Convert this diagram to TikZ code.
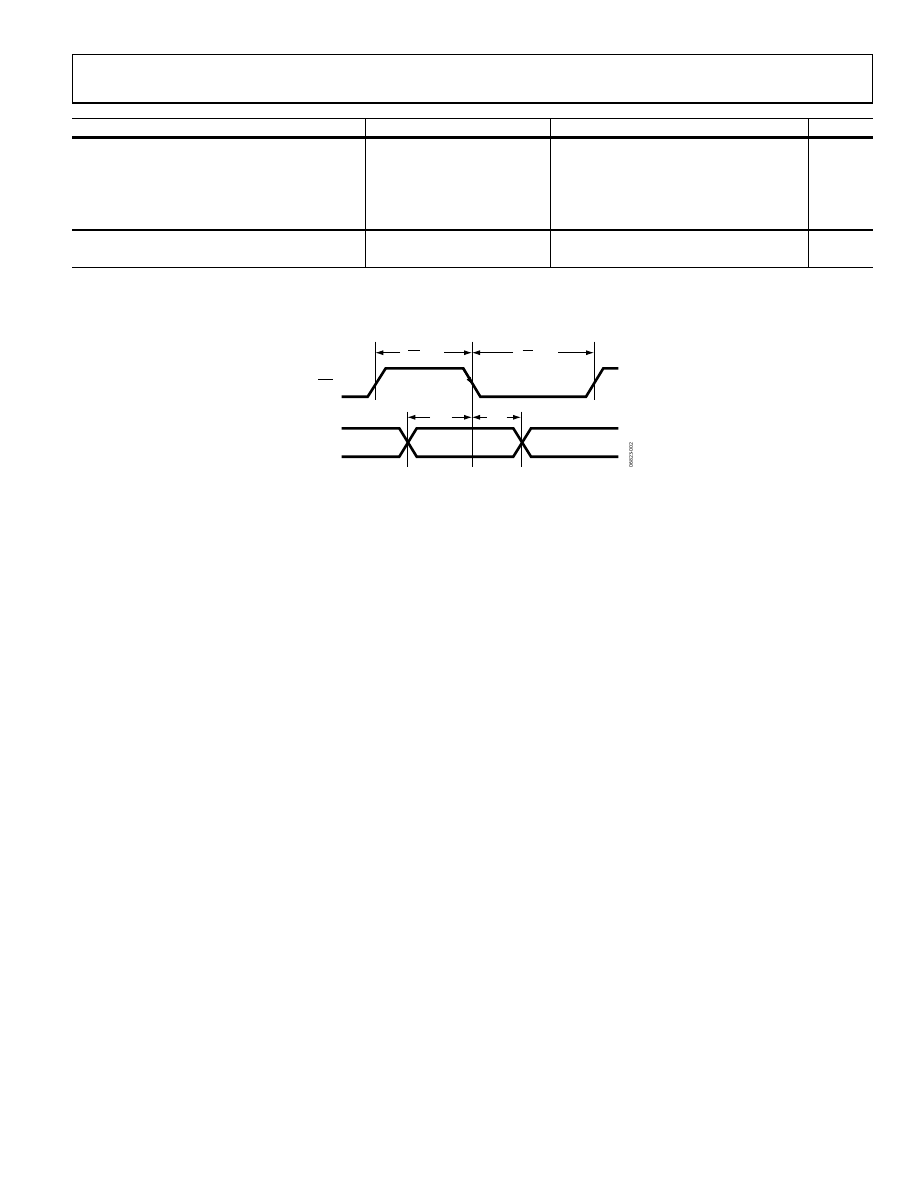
\documentclass[tikz,border=0pt]{standalone}
\usetikzlibrary{arrows.meta}
\begin{document}
\begin{tikzpicture}[x=1pt,y=-1pt,
  thinl/.style={line width=0.9pt},
  thickl/.style={line width=2.2pt},
  sig/.style={line width=2.6pt,line join=miter},
  dim/.style={line width=0.8pt},
  tip/.style={-{Latex[length=8pt,width=5pt]}},
  codetext/.style={font=\fontsize{5.5}{6}\selectfont\sffamily,rotate=90,inner sep=0pt}]
\useasboundingbox (0,0) rectangle (918,1188);
\fill[white] (0,0) rectangle (918,1188);
% header box
\draw[thinl] (72.3,103) -- (72.3,54.3) -- (872.3,54.3) -- (872.3,103);
\draw[thickl] (72,103) -- (872.6,103);
% table
\draw[thinl] (72,118.3) -- (872.6,118.3);
\draw[thickl] (72,137.5) -- (872.6,137.5);
\draw[thickl] (72,230) -- (872.6,230);
\draw[thinl] (72,267.5) -- (872.6,267.5);
\foreach \cx in {365.7,550.7,808.3}{
  \draw[thinl] (\cx,118.3) -- (\cx,267.5);
}
% timing: top signal
\draw[sig] (341.7,396.7) -- (367.7,396.7) -- (385.7,368.3) -- (463.3,368.3) -- (480.3,396.7) -- (586,396.7) -- (603.3,368.3) -- (618.3,368.3);
% bus
\draw[sig] (341.7,428.3) -- (399.3,428.3) -- (416.7,456.7) -- (513.3,456.7) -- (531,428.3) -- (618.3,428.3);
\draw[sig] (341.7,456.7) -- (399.3,456.7) -- (416.7,428.3) -- (513.3,428.3) -- (531,456.7) -- (618.3,456.7);
% vertical reference lines
\coordinate (v1t) at (375.3,341.7); \coordinate (v1b) at (375.3,400);
\coordinate (v2t) at (472,341.7);   \coordinate (v2b) at (472,467.3);
\coordinate (v3t) at (594,341.7);   \coordinate (v3b) at (594,400);
\coordinate (v4t) at (407.3,411.7); \coordinate (v4b) at (407.3,467.3);
\coordinate (v5t) at (521,411.7);   \coordinate (v5b) at (521,467.3);
\foreach \a/\b in {v1t/v1b,v2t/v2b,v3t/v3b,v4t/v4b,v5t/v5b}{\draw[dim] (\a) -- (\b);}
% dimension arrows, top row
\coordinate (a1) at (400,352.7); \coordinate (a1e) at (375.3,352.7);
\coordinate (a2) at (444,352.7); \coordinate (a2e) at (472,352.7);
\coordinate (a3) at (513,352.7); \coordinate (a3e) at (472,352.7);
\coordinate (a4) at (558,352.7); \coordinate (a4e) at (594,352.7);
\draw[dim,tip] (a1) -- (a1e);
\draw[dim,tip] (a2) -- (a2e);
\draw[dim,tip] (a3) -- (a3e);
\draw[dim,tip] (a4) -- (a4e);
\draw[dim] (408,350) -- (420,350);
\draw[dim] (522.7,350) -- (533.3,350);
% dimension arrows, bottom row
\coordinate (b1) at (430,417.3); \coordinate (b1e) at (407.3,417.3);
\coordinate (b2) at (451.7,417.3); \coordinate (b2e) at (472,417.3);
\coordinate (b3) at (486.7,417.3); \coordinate (b3e) at (472,417.3);
\coordinate (b4) at (506.7,417.3); \coordinate (b4e) at (521,417.3);
\draw[dim,tip] (b1) -- (b1e);
\draw[dim,tip] (b2) -- (b2e);
\draw[dim,tip] (b3) -- (b3e);
\draw[dim,tip] (b4) -- (b4e);
% arrow on the falling edge
\coordinate (fe1) at (462,368); \coordinate (fe2) at (473,385);
\draw[dim,tip] (fe1) -- (fe2);
% overbar remnant at left
\draw[dim] (318,379.3) -- (332.7,379.3);
% figure code
\node[codetext] (code) at (631,455) {06823-002};
\end{tikzpicture}
\end{document}
